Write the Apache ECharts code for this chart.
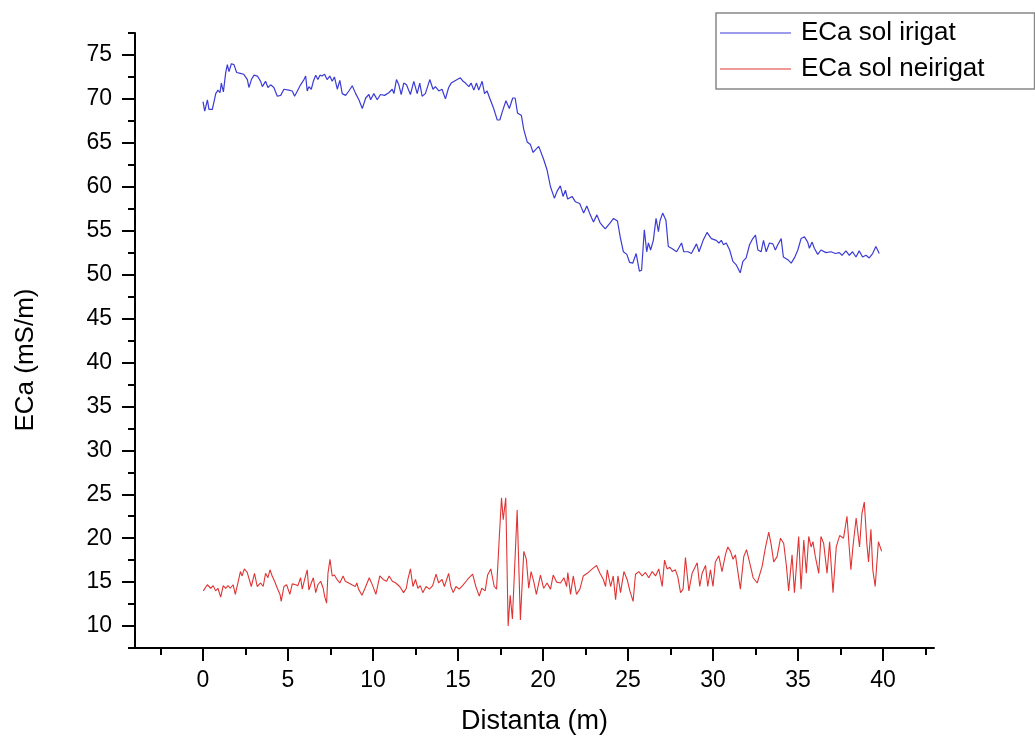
<!DOCTYPE html>
<html>
<head>
<meta charset="utf-8">
<script src="https://cdn.jsdelivr.net/npm/echarts@6/dist/echarts.min.js"></script>
<style>
html, body { margin: 0; padding: 0; background: #fff; }
#chart { width: 1035px; height: 741px; }
</style>
</head>
<body>
<div id="chart"></div>
<script>
// ECa sol irigat (blue)
var irigatX = [0.0, 0.1, 0.26, 0.35, 0.55, 0.75, 0.88, 1.0, 1.08, 1.2, 1.33, 1.43, 1.53, 1.67, 1.82, 1.98, 2.2, 2.4, 2.61, 2.7,
    2.85, 3.0, 3.2, 3.39, 3.49, 3.68, 3.82, 3.98, 4.17, 4.37, 4.57, 4.76, 5.05, 5.25, 5.39, 5.55, 5.74, 5.94, 6.04, 6.13,
    6.23, 6.37, 6.49, 6.63, 6.76, 6.88, 7.0, 7.15, 7.3, 7.46, 7.6, 7.73, 7.9, 8.05, 8.19, 8.39, 8.58, 8.78, 8.98, 9.17,
    9.37, 9.57, 9.76, 9.86, 10.05, 10.25, 10.44, 10.68, 10.93, 11.13, 11.23, 11.38, 11.52, 11.66, 11.81, 11.97, 12.2, 12.4, 12.6, 12.75,
    12.89, 13.08, 13.34, 13.53, 13.67, 13.87, 14.06, 14.26, 14.45, 14.6, 14.85, 15.14, 15.3, 15.44, 15.64, 15.77, 15.93, 16.09, 16.22, 16.42,
    16.56, 16.71, 16.9, 17.1, 17.31, 17.46, 17.6, 17.82, 18.02, 18.22, 18.36, 18.5, 18.73, 18.87, 19.07, 19.26, 19.42, 19.55, 19.75, 20.04,
    20.24, 20.44, 20.67, 20.83, 21.02, 21.18, 21.32, 21.45, 21.71, 21.9, 22.16, 22.39, 22.58, 22.78, 22.97, 23.17, 23.36, 23.66, 23.95, 24.15,
    24.38, 24.54, 24.73, 24.93, 25.09, 25.28, 25.48, 25.67, 25.8, 25.96, 26.1, 26.2, 26.33, 26.49, 26.65, 26.79, 26.88, 27.04, 27.23, 27.37,
    27.56, 27.86, 28.15, 28.28, 28.54, 28.73, 29.03, 29.18, 29.42, 29.65, 29.9, 30.19, 30.35, 30.49, 30.62, 30.78, 30.98, 31.17, 31.37, 31.46,
    31.6, 31.76, 31.95, 32.15, 32.34, 32.5, 32.64, 32.83, 32.97, 33.13, 33.32, 33.52, 33.67, 33.81, 34.01, 34.14, 34.4, 34.6, 34.79, 34.99,
    35.18, 35.38, 35.57, 35.67, 35.83, 35.96, 36.16, 36.35, 36.65, 36.94, 37.2, 37.43, 37.59, 37.82, 38.02, 38.21, 38.41, 38.6, 38.8, 39.0,
    39.19, 39.39, 39.58, 39.78];
var irigatY = [69.7, 68.6, 69.9, 68.8, 68.8, 70.6, 71.0, 70.7, 71.8, 70.8, 72.9, 73.9, 73.1, 74.0, 73.9, 73.0, 72.9, 72.8, 72.2, 71.3,
    72.2, 72.7, 72.6, 72.0, 71.4, 72.0, 71.3, 71.6, 71.3, 70.3, 70.4, 71.1, 71.0, 70.9, 70.3, 70.9, 71.6, 72.2, 72.6, 70.9,
    71.4, 71.1, 72.0, 72.7, 72.2, 72.7, 72.6, 72.8, 72.2, 72.6, 72.0, 72.5, 71.1, 72.1, 70.6, 70.4, 70.9, 71.5, 70.6, 69.9,
    68.9, 70.1, 70.5, 69.9, 70.6, 69.9, 70.5, 70.4, 70.7, 71.1, 70.6, 72.2, 71.6, 70.5, 71.8, 71.6, 70.5, 72.0, 70.6, 71.8,
    70.3, 70.6, 72.2, 71.1, 71.4, 70.9, 71.1, 70.0, 71.3, 71.8, 72.1, 72.4, 72.0, 71.8, 71.4, 71.8, 71.0, 71.8, 71.0, 72.0,
    70.6, 70.9, 69.9, 68.9, 67.6, 67.6, 68.5, 69.8, 68.9, 70.1, 70.1, 68.4, 68.1, 66.5, 65.1, 64.8, 63.9, 64.2, 64.6, 63.1,
    61.9, 60.0, 58.7, 59.5, 60.1, 58.9, 59.6, 58.6, 58.9, 58.3, 58.1, 57.0, 57.8, 56.8, 56.0, 56.8, 55.9, 55.2, 55.9, 56.4,
    56.1, 54.3, 52.6, 52.3, 51.4, 51.3, 52.4, 50.4, 50.5, 55.1, 52.6, 53.6, 52.8, 53.9, 56.4, 54.9, 56.1, 57.0, 56.2, 53.2,
    53.0, 52.6, 53.6, 52.6, 52.6, 52.4, 53.5, 52.6, 53.9, 54.8, 54.1, 53.9, 53.6, 53.9, 53.4, 53.6, 52.8, 51.5, 51.1, 51.3,
    50.2, 51.5, 51.9, 53.4, 54.1, 54.5, 52.8, 52.6, 53.9, 52.6, 53.6, 53.5, 52.8, 53.4, 54.1, 52.0, 51.7, 51.3, 51.9, 52.8,
    54.1, 54.3, 53.7, 53.0, 53.7, 53.0, 52.3, 52.8, 52.5, 52.6, 52.4, 52.5, 52.2, 52.7, 52.2, 52.6, 52.0, 52.7, 52.0, 52.2,
    51.9, 52.4, 53.2, 52.4];

// ECa sol neirigat (red)
var neirigatX = [0.02, 0.25, 0.45, 0.6, 0.74, 0.88, 1.04, 1.19, 1.33, 1.47, 1.6, 1.77, 1.9, 2.1, 2.2, 2.3, 2.43, 2.6, 2.7, 2.84,
    3.03, 3.19, 3.39, 3.54, 3.68, 3.82, 3.94, 4.07, 4.21, 4.37, 4.53, 4.6, 4.76, 4.92, 5.11, 5.25, 5.45, 5.58, 5.74, 5.84,
    5.98, 6.13, 6.23, 6.37, 6.49, 6.63, 6.76, 6.92, 7.07, 7.15, 7.27, 7.35, 7.47, 7.6, 7.73, 7.88, 8.05, 8.24, 8.37, 8.57,
    8.76, 8.96, 9.05, 9.15, 9.35, 9.53, 9.78, 9.98, 10.17, 10.4, 10.6, 10.8, 10.95, 11.14, 11.34, 11.57, 11.8, 11.96, 12.05, 12.2,
    12.35, 12.5, 12.64, 12.78, 12.93, 13.12, 13.32, 13.51, 13.71, 13.86, 14.06, 14.2, 14.45, 14.58, 14.72, 14.88, 15.07, 15.27, 15.56, 15.86,
    16.05, 16.25, 16.4, 16.6, 16.74, 16.93, 17.13, 17.27, 17.42, 17.56, 17.66, 17.81, 17.95, 18.07, 18.2, 18.48, 18.67, 18.87, 19.02, 19.16,
    19.3, 19.45, 19.61, 19.85, 20.04, 20.24, 20.44, 20.6, 20.8, 21.03, 21.23, 21.39, 21.46, 21.62, 21.78, 21.97, 22.17, 22.37, 22.6, 22.9,
    23.15, 23.35, 23.55, 23.68, 23.78, 23.98, 24.13, 24.27, 24.41, 24.56, 24.76, 24.95, 25.11, 25.3, 25.44, 25.64, 25.83, 26.03, 26.22, 26.42,
    26.62, 26.81, 27.01, 27.15, 27.3, 27.46, 27.6, 27.79, 27.93, 28.09, 28.24, 28.38, 28.58, 28.77, 29.07, 29.22, 29.36, 29.56, 29.69, 29.85,
    30.0, 30.14, 30.34, 30.53, 30.73, 30.87, 31.03, 31.18, 31.32, 31.61, 31.81, 31.97, 32.16, 32.36, 32.6, 32.89, 33.08, 33.28, 33.42, 33.57,
    33.77, 33.97, 34.16, 34.32, 34.45, 34.65, 34.79, 35.04, 35.18, 35.34, 35.49, 35.63, 35.77, 35.88, 36.02, 36.22, 36.35, 36.51, 36.71, 36.86,
    37.06, 37.25, 37.45, 37.68, 37.88, 37.98, 38.11, 38.23, 38.42, 38.62, 38.76, 38.9, 39.05, 39.15, 39.29, 39.4, 39.54, 39.73, 39.92];
var neirigatY = [14.0, 14.7, 14.3, 14.6, 14.0, 14.3, 13.3, 14.6, 14.3, 14.6, 14.3, 14.7, 13.6, 15.3, 16.2, 15.7, 16.5, 16.1, 16.0, 14.5,
    16.0, 14.5, 14.9, 14.5, 16.0, 15.5, 16.4, 15.7, 15.1, 14.3, 13.6, 12.8, 14.5, 14.7, 13.6, 14.8, 14.7, 14.6, 15.5, 14.2,
    15.3, 16.4, 14.1, 14.9, 15.5, 13.8, 14.7, 15.1, 14.3, 13.4, 12.6, 16.0, 17.6, 15.7, 15.8, 15.3, 14.9, 15.7, 15.1, 14.9,
    14.7, 14.5, 14.9, 14.2, 13.5, 14.3, 15.5, 14.6, 13.6, 15.7, 15.3, 15.1, 15.7, 15.1, 14.9, 14.5, 13.8, 14.3, 15.3, 16.5,
    14.5, 15.3, 14.3, 14.6, 13.8, 14.5, 14.2, 14.6, 15.9, 14.9, 15.3, 14.5, 16.0, 14.5, 13.8, 14.5, 14.2, 14.6, 15.3, 15.9,
    14.5, 13.4, 14.3, 14.0, 15.8, 16.5, 14.5, 14.2, 19.8, 24.6, 22.1, 24.6, 10.0, 13.5, 10.8, 23.2, 10.7, 18.5, 17.6, 14.3,
    16.2, 15.1, 13.6, 15.8, 14.3, 14.9, 14.2, 15.8, 15.0, 14.9, 15.5, 14.5, 16.1, 13.6, 15.7, 13.6, 14.2, 15.7, 16.0, 16.5,
    16.9, 16.0, 15.3, 14.5, 16.4, 14.5, 15.7, 13.0, 15.7, 13.8, 16.2, 15.3, 14.0, 12.8, 15.9, 16.2, 15.7, 16.1, 15.5, 16.2,
    15.7, 16.5, 14.5, 17.5, 16.5, 16.7, 16.2, 16.4, 15.6, 13.8, 14.2, 17.8, 14.0, 16.0, 17.2, 14.5, 16.0, 16.9, 14.5, 16.4,
    14.5, 17.3, 18.0, 16.2, 18.1, 19.0, 18.5, 17.6, 18.1, 14.2, 17.9, 18.7, 17.2, 15.5, 14.9, 16.8, 18.9, 20.7, 19.3, 17.3,
    17.9, 20.0, 19.4, 16.8, 14.0, 18.1, 13.8, 20.2, 14.2, 19.8, 16.0, 20.2, 19.0, 19.6, 17.9, 16.0, 20.2, 19.4, 16.0, 19.6,
    13.8, 19.0, 20.3, 20.0, 22.5, 22.6, 16.4, 19.0, 22.3, 19.0, 22.8, 24.1, 19.4, 17.3, 21.0, 16.4, 14.5, 19.6, 18.5];

var xTicks = [0, 5, 10, 15, 20, 25, 30, 35, 40];
var xMinorTicks = [-2.5, 2.5, 7.5, 12.5, 17.5, 22.5, 27.5, 32.5, 37.5, 42.5];
var yTicks = [10, 15, 20, 25, 30, 35, 40, 45, 50, 55, 60, 65, 70, 75];
var yMinorTicks = [7.5, 12.5, 17.5, 22.5, 27.5, 32.5, 37.5, 42.5, 47.5, 52.5, 57.5, 62.5, 67.5, 72.5, 77.5];

function zip(xs, ys) {
    var out = [];
    for (var i = 0; i < xs.length; i++) {
        out.push([xs[i], ys[i]]);
    }
    return out;
}

var font = 'Liberation Sans, Arial, sans-serif';
var xMin = -4, xMax = 43, yMin = 7.5, yMax = 77.5;

var chart = echarts.init(document.getElementById('chart'));

var option = {
    backgroundColor: '#fff',
    animation: false,
    grid: {
        left: 135,
        right: 101,
        top: 33,
        bottom: 93,
        containLabel: false,
        outerBoundsMode: 'none'
    },
    legend: {
        orient: 'vertical',
        left: 716,
        top: 13,
        padding: [7, 50, 7, 4],
        itemGap: 10,
        itemWidth: 71,
        itemHeight: 1,
        icon: 'rect',
        borderColor: '#888',
        borderWidth: 1.5,
        textStyle: {
            fontFamily: font,
            fontSize: 26,
            color: '#000',
            padding: [0, 0, 0, 5]
        },
        data: ['ECa sol irigat', 'ECa sol neirigat']
    },
    xAxis: [{
        type: 'value',
        min: xMin,
        max: xMax,
        position: 'bottom',
        name: 'Distanta (m)',
        nameLocation: 'middle',
        nameGap: 60,
        nameTextStyle: { fontFamily: font, fontSize: 27, color: '#000' },
        axisLine: { onZero: false, lineStyle: { color: '#000', width: 2 } },
        axisTick: { show: true, customValues: xTicks, length: 13, lineStyle: { color: '#000', width: 2 } },
        axisLabel: { customValues: xTicks, margin: 21, fontFamily: font, fontSize: 23, color: '#000' },
        splitLine: { show: false }
    }, {
        type: 'value',
        min: xMin,
        max: xMax,
        position: 'bottom',
        axisLine: { show: false, onZero: false },
        axisTick: { show: true, customValues: xMinorTicks, length: 7, lineStyle: { color: '#000', width: 2 } },
        axisLabel: { show: false },
        splitLine: { show: false }
    }],
    yAxis: [{
        type: 'value',
        min: yMin,
        max: yMax,
        position: 'left',
        name: 'ECa (mS/m)',
        nameLocation: 'middle',
        nameGap: 96,
        nameRotate: 90,
        nameTextStyle: { fontFamily: font, fontSize: 26, color: '#000', padding: [0, 39, 0, 0] },
        axisLine: { show: true, onZero: false, lineStyle: { color: '#000', width: 2 } },
        axisTick: { show: true, customValues: yTicks, length: 13, lineStyle: { color: '#000', width: 2 } },
        axisLabel: { customValues: yTicks, margin: 23, fontFamily: font, fontSize: 23, color: '#000' },
        splitLine: { show: false }
    }, {
        type: 'value',
        min: yMin,
        max: yMax,
        position: 'left',
        axisLine: { show: false, onZero: false },
        axisTick: { show: true, customValues: yMinorTicks, length: 7, lineStyle: { color: '#000', width: 2 } },
        axisLabel: { show: false },
        splitLine: { show: false }
    }],
    series: [{
        name: 'ECa sol irigat',
        type: 'line',
        xAxisIndex: 0,
        yAxisIndex: 0,
        showSymbol: false,
        color: '#3b3bd6',
        lineStyle: { width: 1.2, color: '#3b3bd6' },
        data: zip(irigatX, irigatY)
    }, {
        name: 'ECa sol neirigat',
        type: 'line',
        xAxisIndex: 0,
        yAxisIndex: 0,
        showSymbol: false,
        color: '#e03434',
        lineStyle: { width: 1.1, color: '#e03434' },
        data: zip(neirigatX, neirigatY)
    }]
};

chart.setOption(option);
window.onresize = chart.resize;
</script>
</body>
</html>
